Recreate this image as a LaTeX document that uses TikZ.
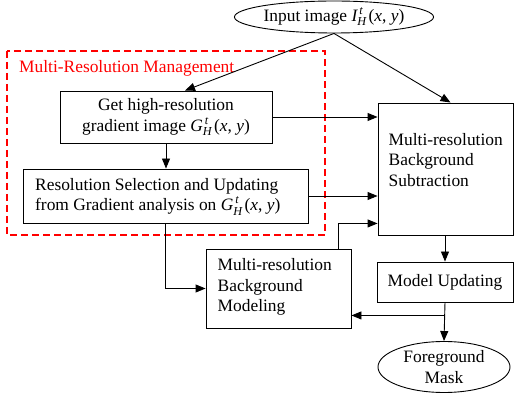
\documentclass[tikz,border=0pt]{standalone}
\usepackage{amsmath}
\usepackage{fontspec}
\setmainfont{Liberation Serif}
\usetikzlibrary{arrows.meta,shapes.geometric}
\newcommand{\GHt}{$\textit{G}^{\,\textit{t}}_{\textit{H}}$\kern2pt(\textit{x}, \textit{y})}
\newcommand{\IHt}{$\textit{I}^{\,\textit{t}}_{\textit{H}}$\kern2pt(\textit{x}, \textit{y})}
\begin{document}
\begin{tikzpicture}[x=1pt,y=-1pt,
  every node/.style={font=\fontsize{17.4}{20.5}\selectfont},
  box/.style={draw,line width=0.9pt,inner sep=0pt},
  oval/.style={draw,ellipse,line width=0.9pt,inner sep=0pt},
  lbl/.style={inner sep=0pt,align=left},
  arr/.style={line width=0.9pt,-{Triangle[length=10pt,width=8pt]}},
  ln/.style={line width=0.9pt}]
\useasboundingbox (0,0) rectangle (515,395);
% red dashed group
\draw[red,line width=2pt,dash pattern=on 7pt off 4pt] (7,51) rectangle (325,235);
\node[red,anchor=base west,inner sep=0pt] (mrm) at (19,72.5) {Multi-Resolution Management};
% nodes
\node[oval,minimum width=196pt,minimum height=32pt] (in) at (334,17) {Input image \IHt};
\node[box,minimum width=212pt,minimum height=52pt,align=center] (get) at (166,117) {Get high-resolution\\gradient image \GHt};
\node[box,minimum width=285pt,minimum height=54pt] (res) at (165.5,196) {};
\node[lbl,anchor=north west] (restxt) at (35,178) {Resolution Selection and Updating\\from Gradient analysis on \GHt};
\node[box,minimum width=135pt,minimum height=132pt] (sub) at (445.5,169) {};
\node[lbl,anchor=north west] (subtxt) at (388.5,133) {Multi-resolution\\Background\\Subtraction};
\node[box,minimum width=145pt,minimum height=79pt] (mod) at (278.5,288.5) {};
\node[lbl,anchor=north west] (modtxt) at (217.5,258.5) {Multi-resolution\\Background\\Modeling};
\node[box,minimum width=136pt,minimum height=40pt] (upd) at (445,282) {Model Updating};
\node[oval,minimum width=132pt,minimum height=51pt,align=center] (fg) at (444,367) {Foreground\\Mask};
% connectors
\draw[arr] (in.south) -- ([xshift=19pt]get.north);
\draw[arr] (in.south) -- ([xshift=5pt]sub.north);
\draw[arr] (get.east) -- (get.east -| sub.west);
\draw[arr] (get.south) -- (get.south |- res.north);
\draw[arr] (res.east) -- (res.east -| sub.west);
\draw[arr] (res.south) |- (mod.west);
\draw[arr] ([xshift=-13pt]mod.north east) |- ([yshift=12pt]sub.south west);
\draw[arr] (sub.south -| upd.north) -- (upd.north);
\draw[arr] (upd.south) -- (fg.north);
\coordinate (br) at ([yshift=-13pt]upd.south);
\draw[arr] (br) -- (br -| mod.east);
\end{tikzpicture}
\end{document}
